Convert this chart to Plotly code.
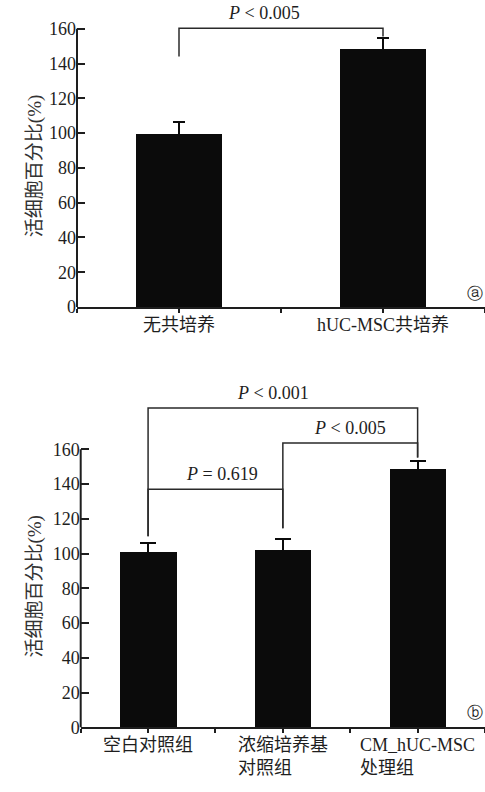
import plotly.graph_objects as go

# ---------------- data ----------------
cats_a = ["无共培养", "hUC-MSC共培养"]
vals_a = [99.5, 148.5]
errs_a = [6.8, 6.0]

cats_b = ["空白对照组", "浓缩培养基<br>对照组", "CM_hUC-MSC<br>处理组"]
vals_b = [100.5, 101.8, 148.3]
errs_b = [5.5, 6.5, 5.0]

y_ticks = [0, 20, 40, 60, 80, 100, 120, 140, 160]
y_title = "活细胞百分比(%)"

# significance brackets: (left idx, right idx, level, left-leg bottom, right-leg bottom, label, label x shift)
brackets_a = [(0, 1, 160.2, 144.0, 155.5, "<i>P</i> < 0.005", -17)]
brackets_b = [
    (0, 1, 137.0, 110.0, 114.6, "<i>P</i> = 0.619", 7),
    (1, 2, 163.6, 114.6, 155.3, "<i>P</i> < 0.005", 0),
    (0, 2, 183.7, 110.0, 155.3, "<i>P</i> < 0.001", -10),
]

FONT = "'Liberation Serif', 'Times New Roman', 'Noto Sans CJK SC'"
INK = "#1e1e1e"
BAR = "#0b0b0b"

fig = go.Figure()

def add_panel(cats, vals, errs, brackets, xa, ya, capw):
    idx = list(range(len(cats)))
    fig.add_trace(go.Bar(
        x=idx, y=vals, width=0.42, marker=dict(color=BAR, line=dict(width=0)),
        error_y=dict(type="data", array=errs, visible=True, color=BAR,
                     thickness=2, width=capw),
        xaxis=xa, yaxis=ya, showlegend=False, hoverinfo="skip"))
    for (i, j, lvl, lb, rb, txt, sh) in brackets:
        fig.add_trace(go.Scatter(
            x=[i, i, j, j], y=[lb, lvl, lvl, rb], mode="lines",
            line=dict(color="#2a2a2a", width=1.5),
            xaxis=xa, yaxis=ya, showlegend=False, hoverinfo="skip"))
        fig.add_annotation(x=(i + j) / 2, y=lvl, xref=xa, yref=ya, text=txt,
                           showarrow=False, yanchor="middle", yshift=15, xshift=sh,
                           font=dict(family=FONT, size=18, color=INK))
    # category labels
    for k, c in zip(idx, cats):
        fig.add_annotation(x=k, y=0, xref=xa, yref=ya, text=c, showarrow=False,
                           yanchor="top", yshift=-6, align="left",
                           font=dict(family=FONT, size=18, color=INK))
    # y axis line only up to 160
    fig.add_shape(type="line", xref=xa + " domain", yref=ya,
                  x0=0, x1=0, y0=0, y1=max(y_ticks),
                  line=dict(color=INK, width=2))
    # y title
    fig.add_annotation(x=22 / 485, xref="paper", y=81, yref=ya, text=y_title,
                       textangle=-90, showarrow=False,
                       font=dict(family=FONT, size=19, color="#333"))

add_panel(cats_a, vals_a, errs_a, brackets_a, "x", "y", 6)
add_panel(cats_b, vals_b, errs_b, brackets_b, "x2", "y2", 8)

fig.add_annotation(x=1, xref="x domain", xanchor="right", y=8, yref="y", text="ⓐ",
                   showarrow=False, font=dict(family="DejaVu Sans", size=16, color=INK))
fig.add_annotation(x=1, xref="x2 domain", xanchor="right", y=8.5, yref="y2", text="ⓑ",
                   showarrow=False, font=dict(family="DejaVu Sans", size=16, color=INK))

xcommon = dict(showgrid=False, zeroline=False, showline=True, linecolor=INK, linewidth=2,
               ticks="outside", tickson="boundaries", ticklen=4, tickwidth=2,
               tickcolor=INK, showticklabels=False, fixedrange=True)
ycommon = dict(showgrid=False, zeroline=False, showline=False, ticks="inside",
               ticklen=8, tickwidth=2, tickcolor=INK, tickvals=y_ticks,
               tickfont=dict(family=FONT, size=18, color=INK), fixedrange=True)

fig.update_layout(
    width=485, height=792,
    margin=dict(l=0, r=0, t=0, b=0),
    paper_bgcolor="white", plot_bgcolor="white",
    xaxis=dict(xcommon, domain=[77 / 485, 1], range=[-0.5, 1.5], anchor="y"),
    yaxis=dict(ycommon, domain=[1 - 311 / 792, 0.99], range=[0, 172], anchor="x"),
    xaxis2=dict(xcommon, domain=[80.7 / 485, 1], range=[-0.5, 2.5], anchor="y2"),
    yaxis2=dict(ycommon, domain=[1 - 736.7 / 792, 1 - 393.4 / 792], range=[0, 195], anchor="x2"),
    bargap=0,
)

fig.write_html("out.html", config={"displayModeBar": False},
               post_script="document.body.style.margin='0';document.body.style.overflow='hidden';")
